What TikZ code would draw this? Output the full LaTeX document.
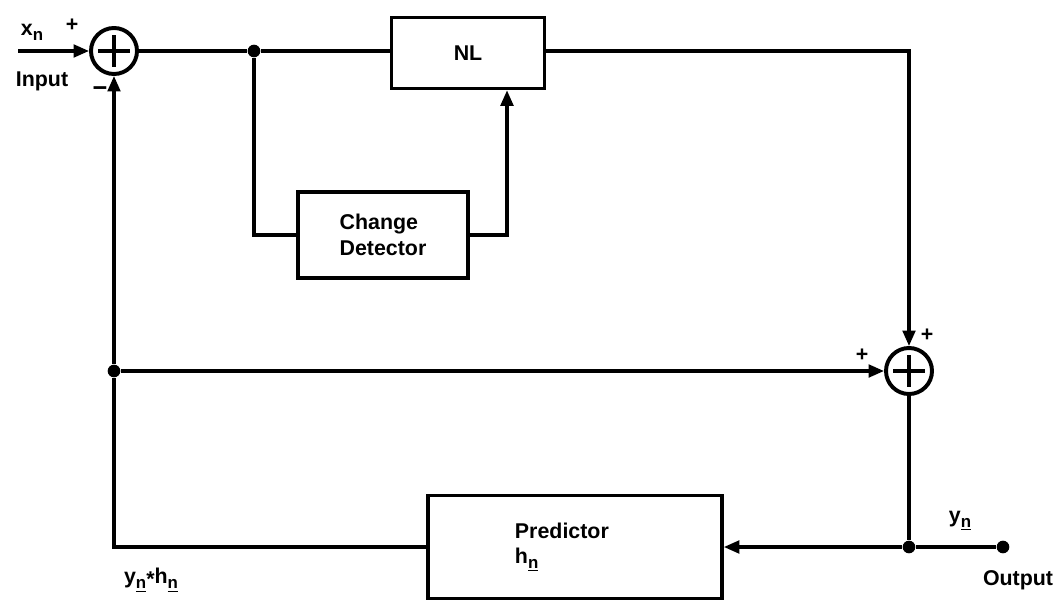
\documentclass[tikz,border=0pt]{standalone}
\usepackage{fontspec}
\setmainfont{Liberation Sans}
\usetikzlibrary{arrows.meta}
\newcommand{\sbn}[1]{\raisebox{-0.45ex}{\fontsize{12}{12}\selectfont #1}}
\newcommand{\sbu}[1]{\raisebox{-0.45ex}{\fontsize{12}{12}\selectfont\underline{#1}}}
\begin{document}
\begin{tikzpicture}[x=0.025cm,y=-0.025cm,
  every node/.style={font=\bfseries\fontsize{15.2}{18}\selectfont},
  wire/.style={line width=2.2pt},
  sig/.style={wire,-{Triangle[length=11pt,width=9pt]}},
  block/.style={draw,line width=2.6pt,inner sep=0pt},
  summer/.style={circle,draw,line width=2.8pt,minimum size=1.15cm,inner sep=0pt,
    path picture={\draw[line width=2.2pt]
      ([xshift=-0.39cm]path picture bounding box.center) -- ([xshift=0.39cm]path picture bounding box.center)
      ([yshift=-0.39cm]path picture bounding box.center) -- ([yshift=0.39cm]path picture bounding box.center);}},
  jdot/.style={circle,fill,inner sep=0pt,minimum size=9pt}]
\useasboundingbox (0,0) rectangle (1057,604);
% blocks
\node[summer] (sum1) at (114,51) {};
\node[summer] (sum2) at (909,371) {};
\node[block,minimum width=3.825cm,minimum height=1.775cm] (nl) at (468,53) {NL};
\node[block,minimum width=4.25cm,minimum height=2.15cm,align=left] (chg) at (383,235) {Change\\Detector};
\node[block,minimum height=2.575cm,text width=3cm,inner xsep=2.175cm,align=left] (pred) at (575,547) {Predictor\\h\sbu{n}};
% junctions and ends
\coordinate (in) at (18,51);
\node[jdot] (j1) at (254,51) {};
\node[jdot] (j2) at (114,371) {};
\node[jdot] (j3) at (909,547) {};
\node[jdot] (out) at (1003,547) {};
\coordinate (c1) at (254,235);
\coordinate (c2) at (507,235);
\coordinate (c3) at (909,51);
\coordinate (c4) at (114,547);
% connections
\draw[sig] (in) -- (sum1.west);
\draw[wire] (sum1.east) -- (j1) -- (j1 -| nl.west);
\draw[wire] (j1) -- (c1) -- (chg.west);
\draw[sig] (chg.east) -- (c2) -- (c2 |- nl.south);
\draw[sig] (nl.east |- c3) -- (c3) -- (sum2.north);
\draw[sig] (j2) -- (sum2.west);
\draw[wire] (sum2.south) -- (j3) -- (out);
\draw[sig] (j3) -- (pred.east);
\draw[wire] (pred.west) -- (c4) -- (j2);
\draw[sig] (j2) -- (sum1.south);
% labels
\node (xn) at (32,32) {x\sbn{n}};
\node (p1) at (72,25) {+};
\node (inlbl) at (42,81) {Input};
\node (m1) at (100,92) {\fontsize{18}{18}\selectfont −};
\node (p2) at (862,355) {+};
\node (p3) at (927,335) {+};
\node (yn) at (960,521) {y\sbu{n}};
\node (outlbl) at (1018,580) {Output};
\node (conv) at (151,580) {y\sbu{n}\raisebox{-0.2ex}{*}h\sbu{n}};
\end{tikzpicture}
\end{document}
